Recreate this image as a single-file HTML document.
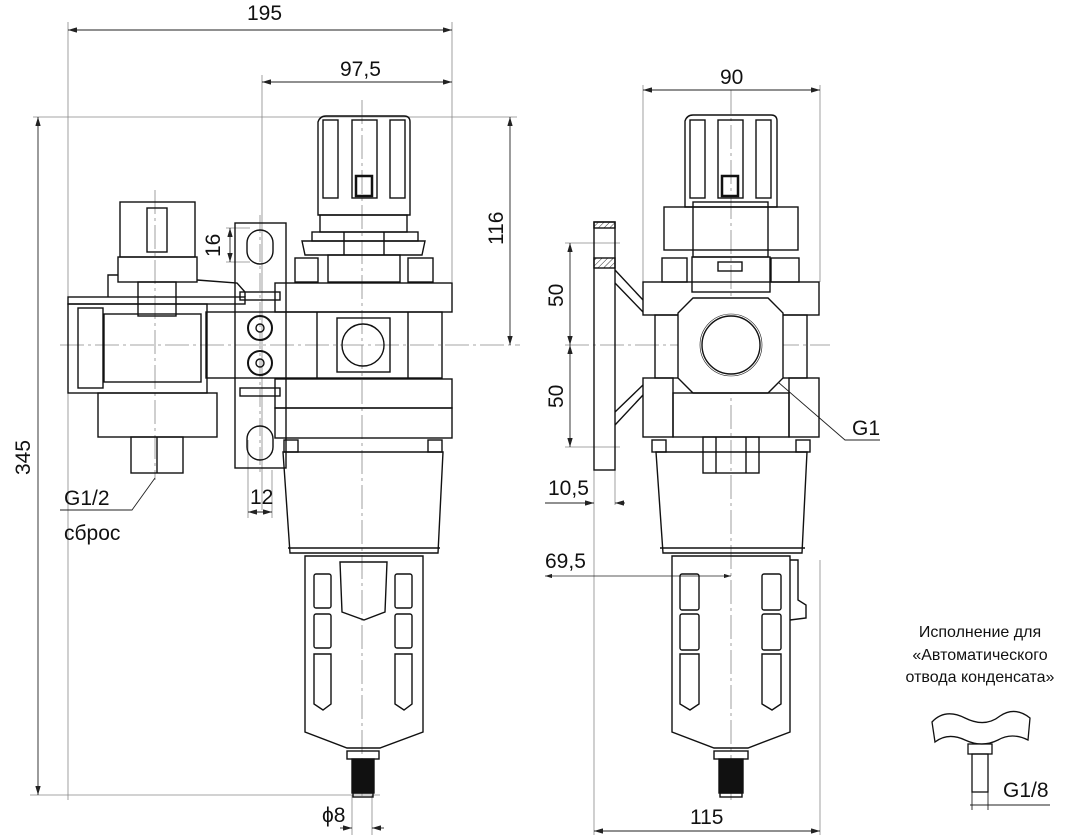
<!DOCTYPE html>
<html><head><meta charset="utf-8"><style>
html,body{margin:0;padding:0;background:#fff;}
svg{display:block;}
text{font-family:"Liberation Sans",sans-serif;fill:#111;}
.d{font-size:21px;}
</style></head><body>
<svg width="1073" height="838" viewBox="0 0 1073 838" xmlns="http://www.w3.org/2000/svg">
<defs>
<marker id="a" viewBox="0 0 10 6" refX="10" refY="3" markerWidth="10" markerHeight="6" orient="auto-start-reverse"><path d="M0,0L10,3L0,6z" fill="#222"/></marker>
<pattern id="h" width="4" height="4" patternUnits="userSpaceOnUse" patternTransform="rotate(45)"><line x1="0" y1="0" x2="0" y2="4" stroke="#333" stroke-width="1"/></pattern>
</defs>
<!-- thin dimension/extension lines -->
<g stroke="#888" stroke-width="0.8" fill="none">
<line x1="68" y1="22" x2="68" y2="800"/><line x1="452" y1="22" x2="452" y2="282"/>
<line x1="262" y1="75" x2="262" y2="510"/>
<line x1="33" y1="117" x2="517" y2="117"/>
<line x1="60" y1="345" x2="520" y2="345" stroke-dasharray="24,4,3,4"/>
<line x1="30" y1="795" x2="380" y2="795"/>
<line x1="362" y1="100" x2="362" y2="800" stroke-dasharray="24,4,3,4"/>
<line x1="155" y1="190" x2="155" y2="480" stroke-dasharray="24,4,3,4"/>
<line x1="260" y1="215" x2="260" y2="475" stroke-dasharray="18,4,3,4"/>
<line x1="643" y1="85" x2="643" y2="282"/><line x1="820" y1="85" x2="820" y2="282"/>
<line x1="731" y1="90" x2="731" y2="800" stroke-dasharray="24,4,3,4"/>
<line x1="594" y1="470" x2="594" y2="835"/><line x1="615" y1="470" x2="615" y2="505"/>
<line x1="565" y1="243" x2="620" y2="243"/><line x1="565" y1="447" x2="620" y2="447"/>
<line x1="565" y1="345" x2="830" y2="345" stroke-dasharray="24,4,3,4"/>
<line x1="820" y1="560" x2="820" y2="835"/>
<line x1="226" y1="228" x2="250" y2="228"/><line x1="226" y1="262" x2="250" y2="262"/>
<line x1="248" y1="440" x2="248" y2="518"/><line x1="272" y1="470" x2="272" y2="518"/>
<line x1="352" y1="795" x2="352" y2="835"/><line x1="372" y1="795" x2="372" y2="835"/>
</g>
<g stroke="#222" stroke-width="0.9" fill="none">
<line x1="68" y1="30" x2="452" y2="30" marker-start="url(#a)" marker-end="url(#a)"/>
<line x1="262" y1="82" x2="452" y2="82" marker-start="url(#a)" marker-end="url(#a)"/>
<line x1="510" y1="117" x2="510" y2="345" marker-start="url(#a)" marker-end="url(#a)"/>
<line x1="38" y1="117" x2="38" y2="795" marker-start="url(#a)" marker-end="url(#a)"/>
<line x1="230" y1="228" x2="230" y2="262" marker-start="url(#a)" marker-end="url(#a)"/>
<line x1="248" y1="512" x2="272" y2="512" marker-start="url(#a)" marker-end="url(#a)"/>
<line x1="340" y1="828" x2="352" y2="828" marker-end="url(#a)"/><line x1="384" y1="828" x2="372" y2="828" marker-end="url(#a)"/>
<line x1="643" y1="90" x2="820" y2="90" marker-start="url(#a)" marker-end="url(#a)"/>
<line x1="570" y1="243" x2="570" y2="345" marker-start="url(#a)" marker-end="url(#a)"/>
<line x1="570" y1="345" x2="570" y2="447" marker-start="url(#a)" marker-end="url(#a)"/>
<line x1="545" y1="503" x2="594" y2="503" marker-end="url(#a)"/><line x1="625" y1="503" x2="615" y2="503" marker-end="url(#a)"/>
<line x1="545" y1="576" x2="731" y2="576" marker-start="url(#a)" marker-end="url(#a)" stroke-width="0.7"/>
<line x1="594" y1="831" x2="820" y2="831" marker-start="url(#a)" marker-end="url(#a)"/>
<path d="M712,325L845,440L880,440"/>
<path d="M155,478L132,510L60,510"/>
<line x1="970" y1="805" x2="1050" y2="805"/>
<line x1="972" y1="792" x2="972" y2="810"/><line x1="988" y1="792" x2="988" y2="810"/>
</g>
<!-- labels -->
<text class="d" x="247" y="20">195</text>
<text class="d" x="340" y="76">97,5</text>
<text class="d" x="720" y="84">90</text>
<text class="d" transform="translate(503,245) rotate(-90)">116</text>
<text class="d" transform="translate(30,475) rotate(-90)">345</text>
<text class="d" transform="translate(220,257) rotate(-90)">16</text>
<text class="d" x="250" y="504">12</text>
<text class="d" x="322" y="822">ϕ8</text>
<text class="d" x="64" y="505">G1/2</text>
<text class="d" x="64" y="540">сброс</text>
<text class="d" transform="translate(563,307) rotate(-90)">50</text>
<text class="d" transform="translate(563,408) rotate(-90)">50</text>
<text class="d" x="548" y="495">10,5</text>
<text class="d" x="545" y="568">69,5</text>
<text class="d" x="690" y="824">115</text>
<text class="d" x="852" y="435">G1</text>
<text class="d" x="1003" y="797">G1/8</text>
<text x="980" y="637" font-size="16" text-anchor="middle">Исполнение для</text>
<text x="980" y="660" font-size="16" text-anchor="middle">«Автоматического</text>
<text x="980" y="682" font-size="16" text-anchor="middle">отвода конденсата»</text>
<!-- LEFT VIEW -->
<g stroke="#111" stroke-width="1.4" fill="none">
<!-- knob -->
<path d="M318,215L318,122Q320,116 326,116L404,116Q410,116 410,122L410,215Z"/>
<rect x="323" y="120" width="15" height="78"/><rect x="352" y="120" width="25" height="78"/><rect x="390" y="120" width="15" height="78"/>
<rect x="356" y="176" width="16" height="20" stroke-width="2.5"/>
<rect x="320" y="215" width="87" height="17"/>
<rect x="312" y="232" width="106" height="9"/><path d="M302,241L425,241L422,255L305,255Z"/>
<line x1="344" y1="232" x2="344" y2="255"/><line x1="384" y1="232" x2="384" y2="255"/>
<rect x="295" y="258" width="23" height="24"/><rect x="408" y="258" width="25" height="24"/>
<rect x="328" y="255" width="72" height="27"/>
<rect x="275" y="283" width="177" height="29"/>
<rect x="206" y="312" width="236" height="66"/>
<line x1="317" y1="312" x2="317" y2="378"/><line x1="408" y1="312" x2="408" y2="378"/>
<rect x="337" y="318" width="53" height="54"/><circle cx="363" cy="345" r="21"/>
<rect x="275" y="379" width="177" height="29"/>
<rect x="275" y="408" width="177" height="30"/>
<rect x="284" y="440" width="14" height="12"/><rect x="428" y="440" width="14" height="12"/>
<!-- bracket plate -->
<rect x="235" y="223" width="51" height="245"/>
<rect x="247" y="230" width="26" height="34" rx="13"/><rect x="247" y="426" width="26" height="34" rx="13"/>
<circle cx="260" cy="328" r="12" stroke-width="2"/><circle cx="260" cy="328" r="4"/>
<circle cx="260" cy="363" r="12" stroke-width="2"/><circle cx="260" cy="363" r="4"/>
<rect x="240" y="292" width="40" height="8"/><rect x="240" y="388" width="40" height="8"/>
<!-- pressure switch -->
<rect x="120" y="202" width="75" height="55"/><rect x="147" y="208" width="20" height="44"/>
<rect x="118" y="257" width="79" height="25"/>
<path d="M108,297L108,275L118,275M197,280L237,283L245,292L245,297"/>
<rect x="138" y="282" width="38" height="34"/>
<rect x="68" y="297" width="177" height="7"/>
<rect x="68" y="304" width="139" height="89"/>
<rect x="78" y="308" width="25" height="80"/><rect x="104" y="314" width="97" height="68"/>
<rect x="98" y="393" width="119" height="44"/>
<rect x="131" y="437" width="52" height="36"/><line x1="157" y1="437" x2="157" y2="473"/>
<!-- bowl -->
<path d="M283,452L443,452L438,553L290,553Z"/><line x1="288" y1="548" x2="440" y2="548"/>
<path d="M305,556L423,556L423,732L380,748L347,748L305,732Z"/>
<rect x="314" y="574" width="17" height="34" rx="2"/><rect x="314" y="614" width="17" height="34" rx="2"/><path d="M314,654h17v50l-8,6l-9,-6z"/>
<rect x="395" y="574" width="17" height="34" rx="2"/><rect x="395" y="614" width="17" height="34" rx="2"/><path d="M395,654h17v50l-8,6l-9,-6z"/>
<path d="M340,562L387,562L385,612L364,620L342,612Z"/>
<rect x="347" y="751" width="32" height="8"/>
<rect x="352" y="759" width="22" height="34" fill="#111"/>
<rect x="353" y="793" width="20" height="4"/>
</g>
<!-- RIGHT VIEW -->
<g stroke="#111" stroke-width="1.4" fill="none">
<path d="M685,207L685,121Q687,115 693,115L771,115Q777,115 777,121L777,207Z"/>
<rect x="690" y="120" width="15" height="78"/><rect x="718" y="120" width="25" height="78"/><rect x="756" y="120" width="15" height="78"/>
<rect x="722" y="176" width="16" height="20" stroke-width="2.5"/>
<rect x="664" y="207" width="134" height="43"/>
<rect x="693" y="202" width="75" height="55"/>
<rect x="692" y="257" width="78" height="35"/>
<rect x="718" y="262" width="24" height="9"/>
<rect x="662" y="258" width="25" height="24"/><rect x="771" y="258" width="28" height="24"/>
<rect x="643" y="282" width="176" height="33"/>
<rect x="655" y="315" width="152" height="63"/>
<path d="M693,298L768,298L783,313L783,378L768,393L693,393L678,378L678,313Z" fill="#fff"/>
<circle cx="731" cy="345" r="29"/><circle cx="731" cy="345" r="31" stroke-width="0.6"/>
<rect x="643" y="378" width="30" height="59"/><rect x="789" y="378" width="30" height="59"/>
<rect x="673" y="393" width="116" height="44"/>
<rect x="703" y="437" width="56" height="36"/><line x1="716" y1="437" x2="716" y2="473"/><line x1="746" y1="437" x2="746" y2="473"/>
<rect x="652" y="440" width="14" height="12"/><rect x="796" y="440" width="14" height="12"/>
<!-- flange -->
<rect x="594" y="222" width="21" height="248"/>
<rect x="594" y="222" width="21" height="6" fill="url(#h)"/><rect x="594" y="258" width="21" height="10" fill="url(#h)"/>
<path d="M615,270L643,300M615,283L643,312M615,412L643,385M615,425L643,395"/>
<!-- bowl -->
<path d="M656,452L807,452L802,553L663,553Z"/><line x1="660" y1="548" x2="805" y2="548"/>
<path d="M672,556L790,556L790,732L748,748L714,748L672,732Z"/>
<path d="M790,560L798,560L798,600L806,605L806,618L790,620"/>
<rect x="680" y="574" width="19" height="36" rx="2"/><rect x="680" y="614" width="19" height="36" rx="2"/><path d="M680,654h19v50l-9,6l-10,-6z"/>
<rect x="762" y="574" width="19" height="36" rx="2"/><rect x="762" y="614" width="19" height="36" rx="2"/><path d="M762,654h19v50l-9,6l-10,-6z"/>
<rect x="714" y="751" width="34" height="8"/>
<rect x="719" y="759" width="24" height="34" fill="#111"/>
<rect x="720" y="793" width="22" height="4"/>
</g>
<!-- inset -->
<g stroke="#111" stroke-width="1.3" fill="none">
<path d="M932,722Q945,708 965,718Q985,728 1000,716Q1015,706 1030,718L1028,740Q1012,732 998,740Q982,748 965,740Q948,732 935,742Z"/>
<rect x="968" y="744" width="24" height="10"/>
<rect x="972" y="754" width="16" height="38"/>
</g>
</svg>
</body></html>
